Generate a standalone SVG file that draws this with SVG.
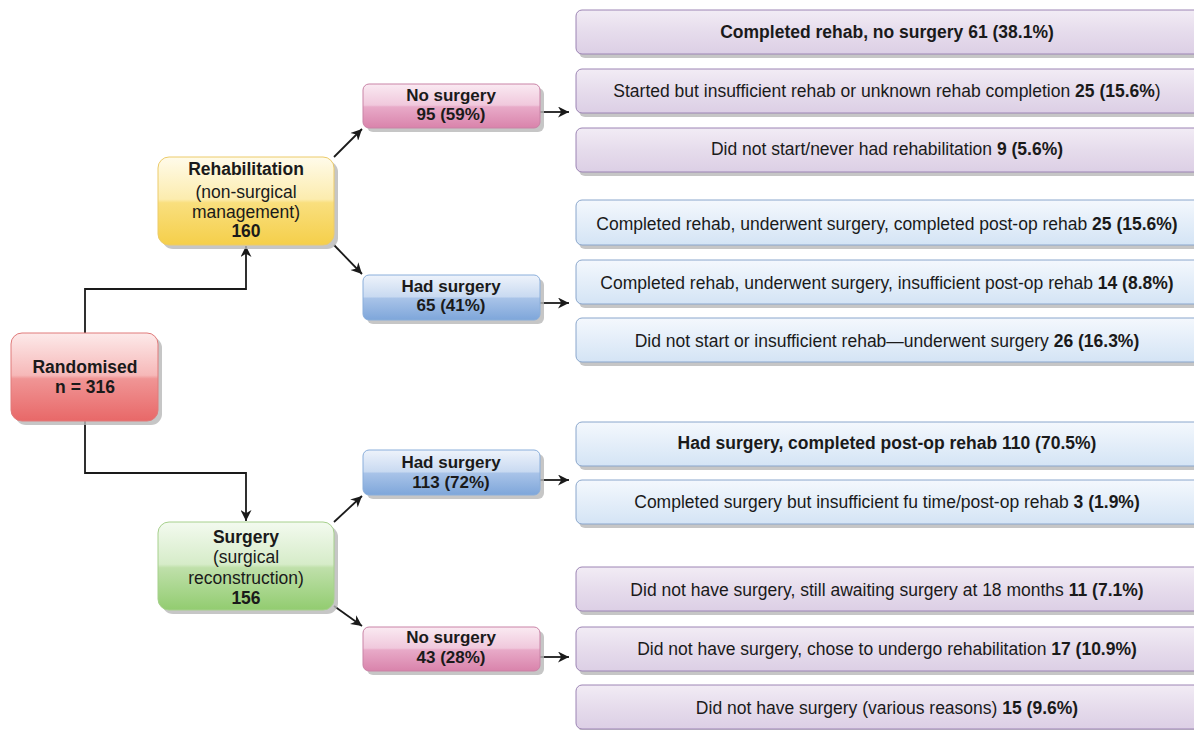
<svg xmlns="http://www.w3.org/2000/svg" width="1194" height="730" viewBox="0 0 1194 730">
<defs>
<linearGradient id="gRed" x1="0" y1="0" x2="0" y2="1">
<stop offset="0" stop-color="#fdeaea"/><stop offset="0.48" stop-color="#f6b8b8"/><stop offset="0.52" stop-color="#f09595"/><stop offset="1" stop-color="#e86868"/>
</linearGradient>
<linearGradient id="gYel" x1="0" y1="0" x2="0" y2="1">
<stop offset="0" stop-color="#fffbea"/><stop offset="0.48" stop-color="#fcecae"/><stop offset="0.52" stop-color="#f9df7e"/><stop offset="1" stop-color="#f5cf4a"/>
</linearGradient>
<linearGradient id="gGrn" x1="0" y1="0" x2="0" y2="1">
<stop offset="0" stop-color="#f3faef"/><stop offset="0.48" stop-color="#d6ecc9"/><stop offset="0.52" stop-color="#bfe0aa"/><stop offset="1" stop-color="#92cc70"/>
</linearGradient>
<linearGradient id="gPink" x1="0" y1="0" x2="0" y2="1">
<stop offset="0" stop-color="#faeaf2"/><stop offset="0.48" stop-color="#f0c8dc"/><stop offset="0.52" stop-color="#e8aac8"/><stop offset="1" stop-color="#d983ab"/>
</linearGradient>
<linearGradient id="gBlue" x1="0" y1="0" x2="0" y2="1">
<stop offset="0" stop-color="#eef3fb"/><stop offset="0.48" stop-color="#c9daf1"/><stop offset="0.52" stop-color="#a8c3e8"/><stop offset="1" stop-color="#7ea6da"/>
</linearGradient>
<linearGradient id="gLav" x1="0" y1="0" x2="0" y2="1">
<stop offset="0" stop-color="#f2ecf5"/><stop offset="0.5" stop-color="#e6dcec"/><stop offset="1" stop-color="#dccfe5"/>
</linearGradient>
<linearGradient id="gLblue" x1="0" y1="0" x2="0" y2="1">
<stop offset="0" stop-color="#f4f8fd"/><stop offset="0.5" stop-color="#e4eef9"/><stop offset="1" stop-color="#d4e4f5"/>
</linearGradient>
<marker id="arr" viewBox="0 0 10 10" refX="10" refY="5" markerWidth="12" markerHeight="11" markerUnits="userSpaceOnUse" orient="auto">
<path d="M0,0 L10,5 L0,10 L3,5 Z" fill="#1a1a1a"/>
</marker>
</defs>
<style>
text{font-family:"Liberation Sans",Arial,sans-serif;font-size:17.5px;fill:#1a1a1a;text-anchor:middle}
.b{font-weight:bold}
.s{font-size:17px}
.sh{fill:#b8b8b8;opacity:0.8}
.red{fill:url(#gRed);stroke:#e07a7a;stroke-width:1}
.yel{fill:url(#gYel);stroke:#eccb6a;stroke-width:1}
.grn{fill:url(#gGrn);stroke:#a6d08c;stroke-width:1}
.pink{fill:url(#gPink);stroke:#c983a6;stroke-width:1}
.blue{fill:url(#gBlue);stroke:#8aaedb;stroke-width:1}
.lav{fill:url(#gLav);stroke:#9c84b4;stroke-width:1}
.lb{fill:url(#gLblue);stroke:#8aa6cc;stroke-width:1}
.conn path{fill:none;stroke:#1a1a1a;stroke-width:1.8;marker-end:url(#arr)}
</style>
<rect width="1194" height="730" fill="#ffffff"/>

<g class="conn" id="connectors">
<path d="M85,333 V289 H246 V246"/>
<path d="M85,421 V473 H246 V521"/>
<path d="M334,157 L362,129"/>
<path d="M334,245 L362,274"/>
<path d="M334,522 L362,496"/>
<path d="M334,606 L362,626"/>
<path d="M540,112 H569"/>
<path d="M540,303 H569"/>
<path d="M540,480 H569"/>
<path d="M540,657 H569"/>
</g>

<g id="randomised">
<rect class="sh" x="15" y="337" width="147" height="88" rx="11"/>
<rect class="red" x="11" y="333" width="147" height="88" rx="11"/>
<text class="b" x="85" y="373">Randomised</text>
<text class="b" x="85" y="393">n = 316</text>
</g>

<g id="rehabilitation">
<rect class="sh" x="162" y="161" width="176" height="88" rx="11"/>
<rect class="yel" x="158" y="157" width="176" height="88" rx="11"/>
<text class="b" x="246" y="175">Rehabilitation</text>
<text x="246" y="198">(non-surgical</text>
<text x="246" y="218">management)</text>
<text class="b" x="246" y="237">160</text>
</g>

<g id="surgery">
<rect class="sh" x="162" y="526" width="176" height="88" rx="11"/>
<rect class="grn" x="158" y="522" width="176" height="88" rx="11"/>
<text class="b" x="246" y="543">Surgery</text>
<text x="246" y="563">(surgical</text>
<text x="246" y="584">reconstruction)</text>
<text class="b" x="246" y="604">156</text>
</g>

<g id="rehab-no-surgery">
<rect class="sh" x="367" y="88" width="177" height="44" rx="6"/>
<rect class="pink" x="363" y="84" width="177" height="44" rx="6"/>
<text class="b s" x="451" y="101">No surgery</text>
<text class="b s" x="451" y="120">95 (59%)</text>
</g>

<g id="rehab-had-surgery">
<rect class="sh" x="367" y="279" width="177" height="45" rx="6"/>
<rect class="blue" x="363" y="275" width="177" height="45" rx="6"/>
<text class="b s" x="451" y="292">Had surgery</text>
<text class="b s" x="451" y="311">65 (41%)</text>
</g>

<g id="surg-had-surgery">
<rect class="sh" x="367" y="454" width="177" height="45" rx="6"/>
<rect class="blue" x="363" y="450" width="177" height="45" rx="6"/>
<text class="b s" x="451" y="468">Had surgery</text>
<text class="b s" x="451" y="488">113 (72%)</text>
</g>

<g id="surg-no-surgery">
<rect class="sh" x="367" y="631" width="177" height="44" rx="6"/>
<rect class="pink" x="363" y="627" width="177" height="44" rx="6"/>
<text class="b s" x="451" y="643">No surgery</text>
<text class="b s" x="451" y="663">43 (28%)</text>
</g>

<g id="o1">
<rect class="sh" x="579" y="14" width="630" height="44" rx="6"/>
<rect class="lav" x="576" y="10" width="630" height="44" rx="6"/>
<text class="b" x="887" y="38">Completed rehab, no surgery 61 (38.1%)</text>
</g>
<g id="o2">
<rect class="sh" x="579" y="73" width="630" height="44" rx="6"/>
<rect class="lav" x="576" y="69" width="630" height="44" rx="6"/>
<text x="887" y="97">Started but insufficient rehab or unknown rehab completion <tspan class="b">25 (15.6%</tspan>)</text>
</g>
<g id="o3">
<rect class="sh" x="579" y="132" width="630" height="44" rx="6"/>
<rect class="lav" x="576" y="128" width="630" height="44" rx="6"/>
<text x="887" y="155">Did not start/never had rehabilitation <tspan class="b">9 (5.6%)</tspan></text>
</g>
<g id="o4">
<rect class="sh" x="579" y="204" width="630" height="45" rx="6"/>
<rect class="lb" x="576" y="200" width="630" height="45" rx="6"/>
<text x="887" y="230">Completed rehab, underwent surgery, completed post-op rehab <tspan class="b">25 (15.6%)</tspan></text>
</g>
<g id="o5">
<rect class="sh" x="579" y="264" width="630" height="44" rx="6"/>
<rect class="lb" x="576" y="260" width="630" height="44" rx="6"/>
<text x="887" y="289">Completed rehab, underwent surgery, insufficient post-op rehab <tspan class="b">14 (8.8%)</tspan></text>
</g>
<g id="o6">
<rect class="sh" x="579" y="322" width="630" height="44" rx="6"/>
<rect class="lb" x="576" y="318" width="630" height="44" rx="6"/>
<text x="887" y="347">Did not start or insufficient rehab—underwent surgery <tspan class="b">26 (16.3%)</tspan></text>
</g>
<g id="o7">
<rect class="sh" x="579" y="426" width="630" height="44" rx="6"/>
<rect class="lb" x="576" y="422" width="630" height="44" rx="6"/>
<text class="b" x="887" y="449">Had surgery, completed post-op rehab 110 (70.5%)</text>
</g>
<g id="o8">
<rect class="sh" x="579" y="484" width="630" height="44" rx="6"/>
<rect class="lb" x="576" y="480" width="630" height="44" rx="6"/>
<text x="887" y="508">Completed surgery but insufficient fu time/post-op rehab <tspan class="b">3 (1.9%)</tspan></text>
</g>
<g id="o9">
<rect class="sh" x="579" y="571" width="630" height="44" rx="6"/>
<rect class="lav" x="576" y="567" width="630" height="44" rx="6"/>
<text x="887" y="596">Did not have surgery, still awaiting surgery at 18 months <tspan class="b">11 (7.1%)</tspan></text>
</g>
<g id="o10">
<rect class="sh" x="579" y="631" width="630" height="44" rx="6"/>
<rect class="lav" x="576" y="627" width="630" height="44" rx="6"/>
<text x="887" y="655">Did not have surgery, chose to undergo rehabilitation <tspan class="b">17 (10.9%)</tspan></text>
</g>
<g id="o11">
<rect class="sh" x="579" y="689" width="630" height="44" rx="6"/>
<rect class="lav" x="576" y="685" width="630" height="44" rx="6"/>
<text x="887" y="714">Did not have surgery (various reasons) <tspan class="b">15 (9.6%)</tspan></text>
</g>
</svg>
